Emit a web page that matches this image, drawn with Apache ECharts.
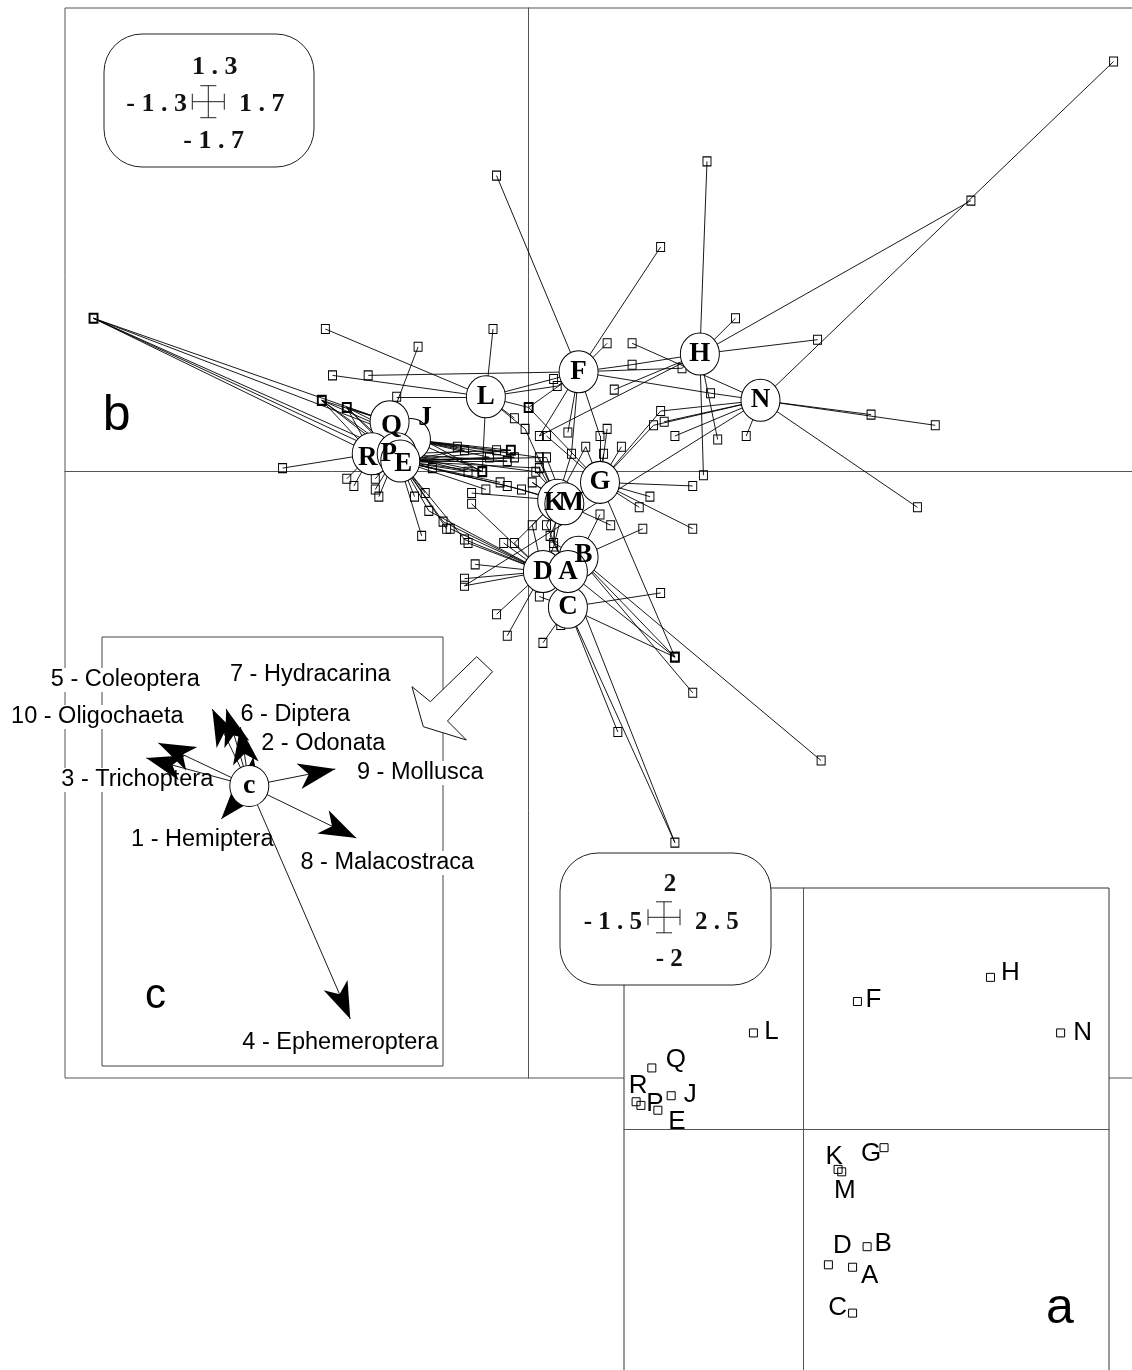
<!DOCTYPE html>
<html>
<head>
<meta charset="utf-8">
<script src="https://cdn.jsdelivr.net/npm/echarts@6.0.0/dist/echarts.min.js"></script>
<style>
    html, body { margin: 0; padding: 0; background: #fff; }
    #main { width: 1132px; height: 1370px; }
</style>
</head>
<body>
<div id="main"></div>
<script>
// ---------- panel b : sites (circles), drawing order ----------
var bSiteNames = ['J', 'Q', 'R', 'P', 'E', 'L', 'F', 'H', 'N', 'G', 'K', 'M', 'B', 'D', 'C', 'A'];
var bSiteX = [-0.33, -0.39, -0.44, -0.37, -0.36, -0.12, 0.14, 0.48, 0.65, 0.20, 0.08, 0.10, 0.14, 0.04, 0.11, 0.11];
var bSiteY = [0.09, 0.14, 0.05, 0.05, 0.03, 0.21, 0.28, 0.33, 0.20, -0.03, -0.08, -0.09, -0.24, -0.28, -0.38, -0.28];

// ---------- panel b : species (squares) and the sites each is joined to ----------
var bSpX = [
    1.64, 1.24, 0.50, 0.37, -0.09, 0.58, 0.81, 0.96, 1.14, 1.09,
    0.61, 0.53, 0.49, 0.46, 0.46, 0.51, 0.29, 0.22, 0.29, 0.43,
    0.24, 0.37, 0.35, 0.38, 0.41, 0.26, 0.22, 0.20, 0.21, 0.16,
    0.12, 0.11, 0.03, 0.05, 0.00, -0.04, -0.01, 0.07, 0.08, -0.57,
    -0.31, -0.55, -0.45, -0.37, -0.10, -0.58, -0.51, -1.22, -0.69, -0.51,
    -0.49, -0.43, -0.43, -0.42, -0.30, -0.20, -0.18, -0.27, -0.17, -0.13,
    -0.11, -0.09, -0.05, -0.04, -0.06, 0.03, 0.05, 0.03, 0.02, -0.12,
    -0.08, -0.06, -0.02, 0.01, -0.16, -0.16, -0.32, -0.29, -0.28, -0.24,
    -0.23, -0.22, -0.18, -0.17, -0.15, -0.18, -0.18, -0.09, -0.06, 0.04,
    0.03, 0.09, 0.37, 0.41, 0.46, 0.25, 0.41, 0.82, -0.07, -0.04,
    0.01, 0.05, 0.06, 0.07, 0.07, 0.20, 0.23, 0.31, 0.34, 0.32
];
var bSpY = [
    1.15, 0.76, 0.87, 0.63, 0.83, 0.43, 0.37, 0.16, 0.13, -0.10,
    0.10, 0.09, -0.01, -0.04, -0.16, 0.22, 0.36, 0.36, 0.30, 0.29,
    0.23, 0.17, 0.13, 0.14, 0.10, 0.07, 0.12, 0.10, 0.05, 0.07,
    0.05, 0.11, 0.10, 0.10, 0.18, 0.15, 0.12, 0.26, 0.24, 0.40,
    0.35, 0.27, 0.27, 0.21, 0.40, 0.20, 0.18, 0.43, 0.01, -0.02,
    -0.04, -0.02, -0.05, -0.07, -0.18, 0.07, 0.06, 0.01, 0.00, 0.00,
    0.04, 0.06, 0.06, 0.04, 0.03, 0.04, 0.04, 0.01, 0.00, -0.05,
    -0.03, -0.04, -0.05, -0.03, -0.06, -0.09, -0.07, -0.06, -0.11, -0.14,
    -0.16, -0.16, -0.19, -0.20, -0.26, -0.30, -0.32, -0.40, -0.46, -0.48,
    -0.35, -0.43, -0.34, -0.52, -0.62, -0.73, -1.04, -0.81, -0.20, -0.20,
    -0.15, -0.15, -0.18, -0.20, -0.21, -0.12, -0.15, -0.10, -0.07, -0.16
];
var bSpSites = [
    'N', 'H', 'H', 'F', 'F', 'H', 'H', 'N', 'N', 'N',
    'N', 'H', 'H', 'G', 'G', 'FN', 'N', 'F', 'FH', 'FH',
    'H', 'GN', 'GN', 'N', 'N', 'G', 'G', 'FG', 'G', 'GK',
    'FK', 'F', 'FH', 'G', 'FGL', 'L', 'LK', 'LF', 'LF', 'L',
    'Q', 'L', 'F', 'L', 'L', 'RPEQJ', 'RPEQJ', 'RPEQJ', 'R', 'R',
    'R', 'P', 'P', 'P', 'P', 'J', 'JE', 'E', 'PE', 'JPEQL',
    'JE', 'J', 'JPE', 'JE', 'EP', 'JK', 'EM', 'EK', 'PM', 'E',
    'E', 'EK', 'EK', 'KM', 'K', 'D', 'E', 'E', 'ED', 'ED',
    'E', 'D', 'ED', 'D', 'D', 'D', 'DN', 'D', 'D', 'C',
    'C', 'C', 'C', 'BACG', 'B', 'C', 'CA', 'B', 'D', 'DK',
    'KD', 'KA', 'MA', 'KB', 'MD', 'B', 'M', 'G', 'G', 'B'
];

// ---------- panel a : site scores ----------
var aNames = ['H', 'F', 'L', 'N', 'Q', 'R', 'P', 'J', 'E', 'G', 'K', 'M', 'B', 'D', 'A', 'C'];
var aX = [1.55, 0.45, -0.41, 2.13, -1.25, -1.38, -1.34, -1.09, -1.20, 0.67, 0.29, 0.32, 0.53, 0.21, 0.41, 0.41];
var aY = [1.26, 1.06, 0.80, 0.80, 0.51, 0.23, 0.20, 0.28, 0.16, -0.15, -0.33, -0.35, -0.97, -1.12, -1.14, -1.52];

// ---------- panel c : taxonomic groups seen from site C ----------
var cGroups = ['1 - Hemiptera', '2 - Odonata', '3 - Trichoptera', '4 - Ephemeroptera', '5 - Coleoptera',
    '6 - Diptera', '7 - Hydracarina', '8 - Malacostraca', '9 - Mollusca', '10 - Oligochaeta'];
var cX = [-0.28, -0.09, -1.03, 1.01, -0.37, -0.23, 0.04, 1.07, 0.86, -0.91];
var cY = [-0.33, 0.59, 0.28, -2.33, 0.77, 0.77, 0.29, -0.52, 0.17, 0.43];

// label nudges (pixels)
var bLabelShift = {J: [14, -22], K: [-3, 3], M: [7, -1], R: [-4, 4], P: [-8, 0], E: [3, 3], Q: [2, 4], B: [5, -2]};
var aLabelShift = {H: [20, -5], F: [16, -2], L: [18, -1], N: [22, 0], Q: [24, -8], R: [2, -16], P: [14, -2],
    J: [19, -1], E: [19, 12], G: [-13, 6], K: [-4, -13], M: [3, 19], B: [16, -3], D: [14, -19], A: [17, 9], C: [-15, -5]};
var cLabelShift = [[-19, 21], [83, 17], [-9, 22], [-10, 24], [-87, -29], [69, 6], [57, -82], [31, 25], [85, 4], [-61, -26]];

var serifBold = '"Liberation Serif", "DejaVu Serif", serif';
var sans = '"Liberation Sans", Arial, sans-serif';

var chart = echarts.init(document.getElementById('main'));

/**
 * 连线: 每个物种到它出现的样点
 * */
var siteIdx = {};
bSiteNames.forEach(function (n, i) { siteIdx[n] = i; });
var bLines = [];
var bSquares = [];
for (var i = 0; i < bSpX.length; i++) {
    var links = bSpSites[i].split('');
    for (var k = 0; k < links.length; k++) {
        var j = siteIdx[links[k]];
        bLines.push({coords: [[bSpX[i], bSpY[i]], [bSiteX[j], bSiteY[j]]]});
    }
    var sq = {value: [bSpX[i], bSpY[i]]};
    if (links.length >= 3) {
        sq.itemStyle = {borderWidth: 2};
    }
    bSquares.push(sq);
}
var bCircles = bSiteNames.map(function (n, i) {
    return {name: n, value: [bSiteX[i], bSiteY[i]], label: {offset: bLabelShift[n] || [0, 0]}};
});

var aPoints = aNames.map(function (n, i) {
    return {name: n, value: [aX[i], aY[i]], label: {offset: aLabelShift[n]}};
});

// arrows of panel c: shaft + head placed so its tip sits on the vector end
var headLen = 37;
var cShafts = [], cHeads = [], cLabels = [];
for (var i = 0; i < cX.length; i++) {
    var ang = Math.atan2(cY[i], cX[i]);
    cShafts.push({coords: [[0, 0], [cX[i], cY[i]]]});
    cHeads.push({
        value: [cX[i], cY[i]],
        symbolRotate: ang * 180 / Math.PI - 90,
        symbolOffset: [-Math.cos(ang) * headLen / 2, Math.sin(ang) * headLen / 2]
    });
    cLabels.push({name: cGroups[i], value: [cX[i], cY[i]], label: {offset: cLabelShift[i]}});
}

function axisOpt(g, min, max, z) {
    return {
        gridIndex: g, type: 'value', min: min, max: max, z: z,
        axisLine: {show: true, onZero: true, lineStyle: {color: '#555', width: 1}},
        axisTick: {show: false}, axisLabel: {show: false}, splitLine: {show: false}
    };
}

var hollow = {color: 'rgba(0,0,0,0)', borderColor: '#000', borderWidth: 1, opacity: 1};
var whiteDisc = {color: '#fff', borderColor: '#000', borderWidth: 1, opacity: 1};
var noMark = {color: 'rgba(0,0,0,0)', borderWidth: 0, opacity: 1};

/**
 * 比例框: 圆角框 + 十字 + 四个数
 * */
function scaleBox(x, y, w, h, cx, cy, hx, hy, font, texts) {
    var st = {stroke: '#222', lineWidth: 1};
    var els = [
        {type: 'rect', z: 10, shape: {x: x, y: y, width: w, height: h, r: 38}, style: {fill: '#fff', stroke: '#222', lineWidth: 1}},
        {type: 'line', z: 11, shape: {x1: cx - hx, y1: cy, x2: cx + hx, y2: cy}, style: st},
        {type: 'line', z: 11, shape: {x1: cx, y1: cy - hy, x2: cx, y2: cy + hy}, style: st},
        {type: 'line', z: 11, shape: {x1: cx - hx, y1: cy - 8, x2: cx - hx, y2: cy + 8}, style: st},
        {type: 'line', z: 11, shape: {x1: cx + hx, y1: cy - 8, x2: cx + hx, y2: cy + 8}, style: st},
        {type: 'line', z: 11, shape: {x1: cx - 8, y1: cy - hy, x2: cx + 8, y2: cy - hy}, style: st},
        {type: 'line', z: 11, shape: {x1: cx - 8, y1: cy + hy, x2: cx + 8, y2: cy + hy}, style: st}
    ];
    texts.forEach(function (t) {
        els.push({type: 'text', z: 11, x: t[1], y: t[2], style: {
            text: t[0], font: font, fill: '#111',
            align: t[3], textAlign: t[3], verticalAlign: 'middle', textVerticalAlign: 'middle'
        }});
    });
    return els;
}

function bigLetter(t, x, y, size) {
    return {type: 'text', z: 10, x: x, y: y, style: {
        text: t, font: size + 'px ' + sans, fill: '#000',
        align: 'center', textAlign: 'center', verticalAlign: 'middle', textVerticalAlign: 'middle'
    }};
}

var graphics = []
    .concat(scaleBox(104, 34, 210, 133, 208.3, 101.7, 16, 16, 'bold 26px ' + serifBold, [
        ['1 . 3', 214.7, 67, 'center'], ['- 1 . 3', 187, 104, 'right'],
        ['1 . 7', 239, 104, 'left'], ['- 1 . 7', 213.7, 141.7, 'center']
    ]))
    .concat(scaleBox(560, 853, 211, 132, 664, 917.3, 16, 15.5, 'bold 25px ' + serifBold, [
        ['2', 670, 885, 'center'], ['- 1 . 5', 642, 923, 'right'],
        ['2 . 5', 695, 923, 'left'], ['- 2', 669.3, 960, 'center']
    ]))
    .concat([
        {type: 'polygon', z: 8, shape: {points: [[476.7, 656.7], [492.5, 671.7], [447.5, 721], [466.4, 740],
            [423.3, 726.7], [412, 686.7], [430.4, 701.7]]}, style: {fill: '#fff', stroke: '#111', lineWidth: 1}},
        bigLetter('b', 116.7, 416, 50),
        bigLetter('c', 155.5, 996, 42),
        bigLetter('a', 1060, 1309, 50)
    ]);

var option = {
    animation: false,
    backgroundColor: '#fff',
    textStyle: {fontFamily: sans},
    graphic: graphics,
    grid: [
        {left: 65, top: 8, width: 1070, height: 1070, show: true, borderColor: '#555', borderWidth: 1,
            backgroundColor: 'rgba(0,0,0,0)', z: 0, outerBoundsMode: 'none', containLabel: false},
        {left: 624, top: 888, width: 485, height: 500, show: true, borderColor: '#333', borderWidth: 1,
            backgroundColor: '#fff', z: 3, outerBoundsMode: 'none', containLabel: false},
        {left: 102, top: 637, width: 341, height: 429, show: true, borderColor: '#444', borderWidth: 1,
            backgroundColor: 'rgba(0,0,0,0)', z: 1, outerBoundsMode: 'none', containLabel: false}
    ],
    xAxis: [
        axisOpt(0, -1.3, 1.7, 1),
        axisOpt(1, -1.48, 2.53, 4),
        {gridIndex: 2, type: 'value', min: -1.473, max: 1.937, show: false}
    ],
    yAxis: [
        axisOpt(0, -1.7, 1.3, 1),
        axisOpt(1, -2.14, 2, 4),
        {gridIndex: 2, type: 'value', min: -2.8, max: 1.49, show: false}
    ],
    series: [
        // ---- panel b ----
        {
            type: 'lines', coordinateSystem: 'cartesian2d', xAxisIndex: 0, yAxisIndex: 0,
            z: 2, silent: true, data: bLines,
            lineStyle: {color: '#000', width: 0.9, opacity: 1}
        },
        {
            type: 'scatter', xAxisIndex: 0, yAxisIndex: 0, z: 3, silent: true,
            symbol: 'rect', symbolSize: [8, 9], itemStyle: hollow, data: bSquares
        },
        {
            type: 'scatter', xAxisIndex: 0, yAxisIndex: 0, z: 5, silent: true,
            symbol: 'circle', symbolSize: [39, 42], itemStyle: whiteDisc,
            data: bCircles.map(function (d) { return {name: d.name, value: d.value}; })
        },
        {
            type: 'scatter', xAxisIndex: 0, yAxisIndex: 0, z: 6, silent: true,
            symbol: 'circle', symbolSize: 1, itemStyle: noMark,
            label: {
                show: true, position: 'inside', color: '#000', textBorderWidth: 0,
                fontFamily: serifBold, fontWeight: 'bold', fontSize: 27,
                formatter: function (p) { return p.name; }
            },
            data: bCircles
        },
        // ---- panel a ----
        {
            type: 'scatter', xAxisIndex: 1, yAxisIndex: 1, z: 6, silent: true,
            symbol: 'rect', symbolSize: [8, 8], itemStyle: hollow,
            label: {
                show: true, position: 'inside', color: '#000', textBorderWidth: 0,
                fontFamily: sans, fontSize: 26,
                formatter: function (p) { return p.name; }
            },
            data: aPoints
        },
        // ---- panel c ----
        {
            type: 'scatter', xAxisIndex: 2, yAxisIndex: 2, z: 3, silent: true,
            symbol: 'circle', symbolSize: 1, itemStyle: noMark,
            label: {
                show: true, position: 'inside', color: '#000', textBorderWidth: 0,
                fontFamily: sans, fontSize: 23.5, backgroundColor: '#fff', padding: [0, 2],
                formatter: function (p) { return p.name; }
            },
            data: cLabels
        },
        {
            type: 'lines', coordinateSystem: 'cartesian2d', xAxisIndex: 2, yAxisIndex: 2,
            z: 4, silent: true, data: cShafts,
            lineStyle: {color: '#000', width: 0.9, opacity: 1}
        },
        {
            type: 'scatter', xAxisIndex: 2, yAxisIndex: 2, z: 4, silent: true,
            symbol: 'path://M13,0 L26,37 L13,27 L0,37 Z', symbolSize: [26, 37],
            itemStyle: {color: '#000', opacity: 1}, data: cHeads
        },
        {
            type: 'scatter', xAxisIndex: 2, yAxisIndex: 2, z: 5, silent: true,
            symbol: 'circle', symbolSize: [39, 41], itemStyle: whiteDisc,
            label: {
                show: true, position: 'inside', color: '#000', textBorderWidth: 0,
                fontFamily: serifBold, fontWeight: 'bold', fontSize: 28,
                formatter: function () { return 'c'; }
            },
            data: [[0, 0]]
        }
    ]
};

chart.setOption(option);
</script>
</body>
</html>
